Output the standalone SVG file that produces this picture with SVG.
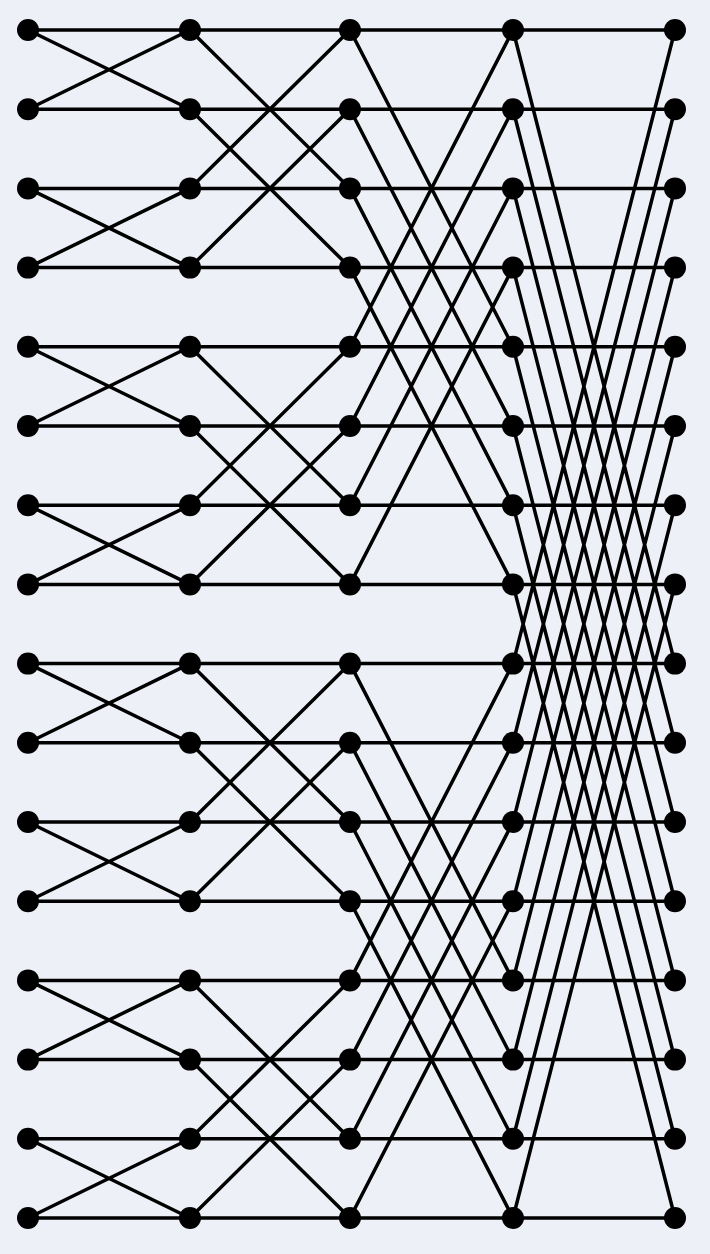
<svg xmlns="http://www.w3.org/2000/svg" width="710" height="1254" viewBox="0 0 710 1254">
<style>
.e{fill:none;stroke:#000;stroke-width:3.5;stroke-linecap:round}
.n{fill:#000}
</style>
<rect width="710" height="1254" fill="#eef0f8"/>
<g id="connectors" class="e">
<path id="rows" d="M28 30H675M28 109.2H675M28 188.4H675M28 267.6H675M28 346.8H675M28 426H675M28 505.2H675M28 584.4H675M28 663.6H675M28 742.8H675M28 822H675M28 901.2H675M28 980.4H675M28 1059.6H675M28 1138.8H675M28 1218H675"/>
<path id="stage1" d="M28 30L190 109.2M28 109.2L190 30M28 188.4L190 267.6M28 267.6L190 188.4M28 346.8L190 426M28 426L190 346.8M28 505.2L190 584.4M28 584.4L190 505.2M28 663.6L190 742.8M28 742.8L190 663.6M28 822L190 901.2M28 901.2L190 822M28 980.4L190 1059.6M28 1059.6L190 980.4M28 1138.8L190 1218M28 1218L190 1138.8"/>
<path id="stage2" d="M190 30L350 188.4M190 109.2L350 267.6M190 188.4L350 30M190 267.6L350 109.2M190 346.8L350 505.2M190 426L350 584.4M190 505.2L350 346.8M190 584.4L350 426M190 663.6L350 822M190 742.8L350 901.2M190 822L350 663.6M190 901.2L350 742.8M190 980.4L350 1138.8M190 1059.6L350 1218M190 1138.8L350 980.4M190 1218L350 1059.6"/>
<path id="stage3" d="M350 30L513 346.8M350 109.2L513 426M350 188.4L513 505.2M350 267.6L513 584.4M350 346.8L513 30M350 426L513 109.2M350 505.2L513 188.4M350 584.4L513 267.6M350 663.6L513 980.4M350 742.8L513 1059.6M350 822L513 1138.8M350 901.2L513 1218M350 980.4L513 663.6M350 1059.6L513 742.8M350 1138.8L513 822M350 1218L513 901.2"/>
<path id="stage4" d="M513 30L675 663.6M513 109.2L675 742.8M513 188.4L675 822M513 267.6L675 901.2M513 346.8L675 980.4M513 426L675 1059.6M513 505.2L675 1138.8M513 584.4L675 1218M513 663.6L675 30M513 742.8L675 109.2M513 822L675 188.4M513 901.2L675 267.6M513 980.4L675 346.8M513 1059.6L675 426M513 1138.8L675 505.2M513 1218L675 584.4"/>
</g>
<defs><circle id="dot" r="11" class="n"/></defs>
<g id="c0">
<g id="n0_0"><use href="#dot" x="28" y="30"/></g>
<g id="n0_1"><use href="#dot" x="28" y="109.2"/></g>
<g id="n0_2"><use href="#dot" x="28" y="188.4"/></g>
<g id="n0_3"><use href="#dot" x="28" y="267.6"/></g>
<g id="n0_4"><use href="#dot" x="28" y="346.8"/></g>
<g id="n0_5"><use href="#dot" x="28" y="426"/></g>
<g id="n0_6"><use href="#dot" x="28" y="505.2"/></g>
<g id="n0_7"><use href="#dot" x="28" y="584.4"/></g>
<g id="n0_8"><use href="#dot" x="28" y="663.6"/></g>
<g id="n0_9"><use href="#dot" x="28" y="742.8"/></g>
<g id="n0_10"><use href="#dot" x="28" y="822"/></g>
<g id="n0_11"><use href="#dot" x="28" y="901.2"/></g>
<g id="n0_12"><use href="#dot" x="28" y="980.4"/></g>
<g id="n0_13"><use href="#dot" x="28" y="1059.6"/></g>
<g id="n0_14"><use href="#dot" x="28" y="1138.8"/></g>
<g id="n0_15"><use href="#dot" x="28" y="1218"/></g>
</g>
<g id="c1">
<g id="n1_0"><use href="#dot" x="190" y="30"/></g>
<g id="n1_1"><use href="#dot" x="190" y="109.2"/></g>
<g id="n1_2"><use href="#dot" x="190" y="188.4"/></g>
<g id="n1_3"><use href="#dot" x="190" y="267.6"/></g>
<g id="n1_4"><use href="#dot" x="190" y="346.8"/></g>
<g id="n1_5"><use href="#dot" x="190" y="426"/></g>
<g id="n1_6"><use href="#dot" x="190" y="505.2"/></g>
<g id="n1_7"><use href="#dot" x="190" y="584.4"/></g>
<g id="n1_8"><use href="#dot" x="190" y="663.6"/></g>
<g id="n1_9"><use href="#dot" x="190" y="742.8"/></g>
<g id="n1_10"><use href="#dot" x="190" y="822"/></g>
<g id="n1_11"><use href="#dot" x="190" y="901.2"/></g>
<g id="n1_12"><use href="#dot" x="190" y="980.4"/></g>
<g id="n1_13"><use href="#dot" x="190" y="1059.6"/></g>
<g id="n1_14"><use href="#dot" x="190" y="1138.8"/></g>
<g id="n1_15"><use href="#dot" x="190" y="1218"/></g>
</g>
<g id="c2">
<g id="n2_0"><use href="#dot" x="350" y="30"/></g>
<g id="n2_1"><use href="#dot" x="350" y="109.2"/></g>
<g id="n2_2"><use href="#dot" x="350" y="188.4"/></g>
<g id="n2_3"><use href="#dot" x="350" y="267.6"/></g>
<g id="n2_4"><use href="#dot" x="350" y="346.8"/></g>
<g id="n2_5"><use href="#dot" x="350" y="426"/></g>
<g id="n2_6"><use href="#dot" x="350" y="505.2"/></g>
<g id="n2_7"><use href="#dot" x="350" y="584.4"/></g>
<g id="n2_8"><use href="#dot" x="350" y="663.6"/></g>
<g id="n2_9"><use href="#dot" x="350" y="742.8"/></g>
<g id="n2_10"><use href="#dot" x="350" y="822"/></g>
<g id="n2_11"><use href="#dot" x="350" y="901.2"/></g>
<g id="n2_12"><use href="#dot" x="350" y="980.4"/></g>
<g id="n2_13"><use href="#dot" x="350" y="1059.6"/></g>
<g id="n2_14"><use href="#dot" x="350" y="1138.8"/></g>
<g id="n2_15"><use href="#dot" x="350" y="1218"/></g>
</g>
<g id="c3">
<g id="n3_0"><use href="#dot" x="513" y="30"/></g>
<g id="n3_1"><use href="#dot" x="513" y="109.2"/></g>
<g id="n3_2"><use href="#dot" x="513" y="188.4"/></g>
<g id="n3_3"><use href="#dot" x="513" y="267.6"/></g>
<g id="n3_4"><use href="#dot" x="513" y="346.8"/></g>
<g id="n3_5"><use href="#dot" x="513" y="426"/></g>
<g id="n3_6"><use href="#dot" x="513" y="505.2"/></g>
<g id="n3_7"><use href="#dot" x="513" y="584.4"/></g>
<g id="n3_8"><use href="#dot" x="513" y="663.6"/></g>
<g id="n3_9"><use href="#dot" x="513" y="742.8"/></g>
<g id="n3_10"><use href="#dot" x="513" y="822"/></g>
<g id="n3_11"><use href="#dot" x="513" y="901.2"/></g>
<g id="n3_12"><use href="#dot" x="513" y="980.4"/></g>
<g id="n3_13"><use href="#dot" x="513" y="1059.6"/></g>
<g id="n3_14"><use href="#dot" x="513" y="1138.8"/></g>
<g id="n3_15"><use href="#dot" x="513" y="1218"/></g>
</g>
<g id="c4">
<g id="n4_0"><use href="#dot" x="675" y="30"/></g>
<g id="n4_1"><use href="#dot" x="675" y="109.2"/></g>
<g id="n4_2"><use href="#dot" x="675" y="188.4"/></g>
<g id="n4_3"><use href="#dot" x="675" y="267.6"/></g>
<g id="n4_4"><use href="#dot" x="675" y="346.8"/></g>
<g id="n4_5"><use href="#dot" x="675" y="426"/></g>
<g id="n4_6"><use href="#dot" x="675" y="505.2"/></g>
<g id="n4_7"><use href="#dot" x="675" y="584.4"/></g>
<g id="n4_8"><use href="#dot" x="675" y="663.6"/></g>
<g id="n4_9"><use href="#dot" x="675" y="742.8"/></g>
<g id="n4_10"><use href="#dot" x="675" y="822"/></g>
<g id="n4_11"><use href="#dot" x="675" y="901.2"/></g>
<g id="n4_12"><use href="#dot" x="675" y="980.4"/></g>
<g id="n4_13"><use href="#dot" x="675" y="1059.6"/></g>
<g id="n4_14"><use href="#dot" x="675" y="1138.8"/></g>
<g id="n4_15"><use href="#dot" x="675" y="1218"/></g>
</g>
</svg>
